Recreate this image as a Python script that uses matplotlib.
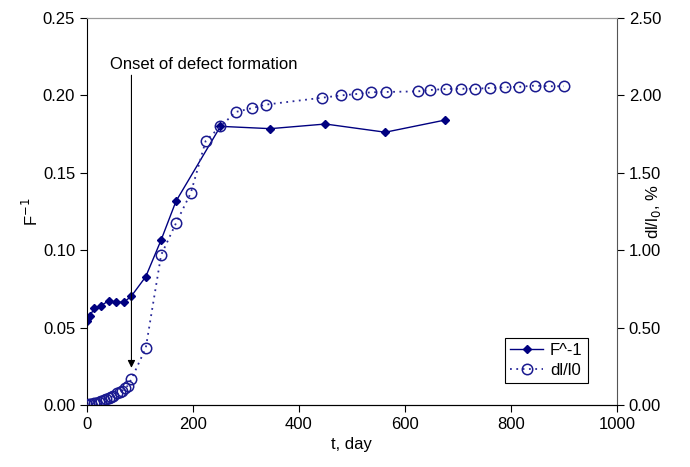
import matplotlib
matplotlib.use('Agg')
import matplotlib.pyplot as plt

plt.rcParams['font.family'] = ['Liberation Sans', 'DejaVu Sans']

# F^-1 series (left axis)
t_f = [0, 6, 14, 27, 41, 55, 70, 84, 111, 140, 168, 252, 346, 450, 563, 675]
f_inv = [0.0542, 0.0577, 0.0627, 0.0642, 0.0674, 0.0664, 0.0664, 0.0704,
         0.0829, 0.1066, 0.1316, 0.1800, 0.1785, 0.1815, 0.1762, 0.1840]

# dl/l0 series (right axis, %)
t_d = [0, 3, 8, 13, 18, 22, 27, 32, 36, 41, 46, 50, 57, 62, 66, 72, 77, 84,
       111, 140, 168, 196, 224, 252, 281, 311, 337, 444, 480, 509, 536, 564,
       625, 648, 677, 706, 733, 761, 788, 816, 845, 872, 900]
dl = [0.000, 0.005, 0.008, 0.011, 0.016, 0.021, 0.026, 0.032, 0.037, 0.043,
      0.051, 0.060, 0.076, 0.083, 0.090, 0.108, 0.125, 0.168,
      0.368, 0.969, 1.174, 1.370, 1.705, 1.800, 1.893, 1.917, 1.940, 1.985,
      2.000, 2.009, 2.020, 2.022, 2.026, 2.035, 2.041, 2.043, 2.043, 2.048,
      2.052, 2.056, 2.063, 2.059, 2.059]

navy = '#000080'
fs = 12

fig = plt.figure(figsize=(6.9, 4.67), dpi=100)
ax = fig.add_axes([0.126, 0.1328, 0.768, 0.8287])
ax2 = ax.twinx()

l1, = ax.plot(t_f, f_inv, color=navy, lw=1, marker='D', ms=4.5,
              mfc=navy, mec=navy, label='F^-1')
l2, = ax2.plot(t_d, dl, color='#2a2a9a', lw=1.3, ls=(0, (1, 2.5)),
               marker='o', ms=7.5, mfc='none', mec='#1a1a90', mew=1.1,
               label='dl/l0')

ax.set_xlim(0, 1000)
ax.set_ylim(0, 0.25)
ax2.set_ylim(0, 2.5)
ax.set_xticks([0, 200, 400, 600, 800, 1000])
ax.set_yticks([0, 0.05, 0.10, 0.15, 0.20, 0.25])
ax.set_yticklabels(['%.2f' % v for v in ax.get_yticks()])
ax2.set_yticks([0, 0.5, 1.0, 1.5, 2.0, 2.5])
ax2.set_yticklabels(['%.2f' % v for v in ax2.get_yticks()])

for a in (ax, ax2):
    a.tick_params(labelsize=fs, direction='out', length=5, width=0.8)
    a.spines['top'].set_color('#999999')
    a.spines['right'].set_color('#555555')
    a.spines['left'].set_color('black')
    a.spines['bottom'].set_color('black')
ax.spines['right'].set_visible(False)
ax2.spines['left'].set_visible(False)

ax.set_xlabel('t, day', fontsize=fs)
ax.set_ylabel('F$^{-1}$', fontsize=fs, labelpad=1)
ax2.set_ylabel('dl/l$_0$, %', fontsize=fs, labelpad=-12)

ax.text(220, 0.217, 'Onset of defect formation', ha='center', va='baseline',
        fontsize=fs)
ax.annotate('', xy=(84, 0.024), xytext=(84, 0.213),
            arrowprops=dict(arrowstyle='-|>', color='black', lw=0.8,
                            mutation_scale=11, shrinkA=0, shrinkB=0))

leg = ax2.legend([l1, l2], ['F^-1', 'dl/l0'], loc='lower right',
                 bbox_to_anchor=(0.945, 0.057), borderaxespad=0,
                 fontsize=fs, fancybox=False, edgecolor='black',
                 framealpha=1, handlelength=2.0, handletextpad=0.4,
                 borderpad=0.3, labelspacing=0.3)
leg.get_frame().set_linewidth(0.8)

fig.savefig('out.png', dpi=100)
